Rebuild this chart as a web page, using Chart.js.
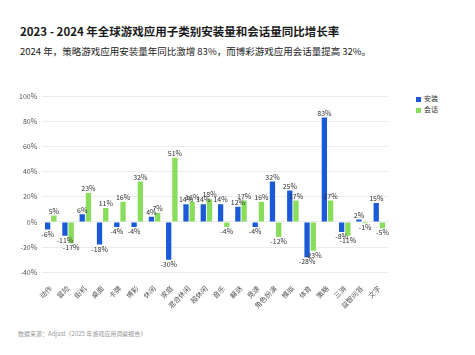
<!DOCTYPE html>
<html>
<head>
<meta charset="utf-8">
<script src="https://cdn.jsdelivr.net/npm/chart.js@4.4.1/dist/chart.umd.min.js"></script>
<style>
  html,body{margin:0;padding:0;background:#fff;width:475px;height:355px;overflow:hidden;font-family:"Noto Sans CJK SC","Noto Sans",sans-serif;}
  #title{position:absolute;left:20px;top:23px;font-size:11.5px;font-weight:bold;color:#1a1a1a;white-space:nowrap;}
  #sub{position:absolute;left:20px;top:44px;font-size:9.5px;color:#222;white-space:nowrap;}
  #src{position:absolute;left:18px;top:329px;font-size:6px;color:#999;white-space:nowrap;}
  #legend{position:absolute;left:416px;top:93px;font-size:7px;color:#333;line-height:11px;}
  #legend .sw{display:inline-block;width:5px;height:5px;margin-right:3px;vertical-align:middle;}
  #wrap{position:absolute;left:0;top:84px;width:475px;height:230px;}
</style>
</head>
<body>
<div id="title">2023 - 2024 年全球游戏应用子类别安装量和会话量同比增长率</div>
<div id="sub">2024 年，策略游戏应用安装量年同比激增 83%，而博彩游戏应用会话量提高 32%。</div>
<div id="legend"><div><span class="sw" style="background:#1a5ad8"></span>安装</div><div><span class="sw" style="background:#88dd5a"></span>会话</div></div>
<div id="wrap"><canvas id="c" width="475" height="230"></canvas></div>
<div id="src">数据来源：Adjust《2025 年游戏应用洞察报告》</div>
<script>
const categories = ["动作","冒险","街机","桌面","卡牌","博彩","休闲","家庭","混合休闲","超休闲","音乐","解谜","竞速","角色扮演","模拟","体育","策略","三消","益智问答","文字"];
const installs = [-6,-11,6,-18,-4,-4,4,-30,14,14,14,12,-4,32,25,-28,83,-8,2,15];
const sessions = [5,-17,23,11,16,32,7,51,16,18,-4,17,16,-12,17,-23,17,-11,-1,-5];
const yTicks = [-40,-20,0,20,40,60,80,100];

const labelPlugin = {
  id:'vlabels',
  afterDatasetsDraw(chart){
    const ctx = chart.ctx;
    ctx.save();
    ctx.font = '7px "Noto Sans CJK SC", sans-serif';
    ctx.fillStyle = '#333';
    ctx.textAlign = 'center';
    chart.data.datasets.forEach((ds,di)=>{
      const meta = chart.getDatasetMeta(di);
      meta.data.forEach((el,i)=>{
        const v = ds.data[i];
        if(v>=0){ctx.textBaseline='bottom'; ctx.fillText(v+'%', el.x, el.y-1);}
        else {ctx.textBaseline='top'; ctx.fillText(v+'%', el.x, el.y+1);}
      });
    });
    ctx.restore();
  }
};

new Chart(document.getElementById('c'),{
  type:'bar',
  data:{labels:categories,datasets:[
    {label:'安装',data:installs,backgroundColor:'#1a5ad8',barPercentage:0.85,categoryPercentage:0.72},
    {label:'会话',data:sessions,backgroundColor:'#88dd5a',barPercentage:0.85,categoryPercentage:0.72}
  ]},
  options:{
    responsive:false,animation:false,devicePixelRatio:1,
    layout:{padding:{left:14,right:87,top:12,bottom:0}},
    plugins:{legend:{display:false},tooltip:{enabled:false}},
    scales:{
      x:{grid:{display:false},border:{display:false},
        ticks:{font:{size:7,family:'"Noto Sans CJK SC", sans-serif'},color:'#555',minRotation:45,maxRotation:45,padding:4}},
      y:{min:-40,max:100,grid:{color:'#ececec',drawTicks:false},border:{display:false},
        afterBuildTicks(axis){axis.ticks = yTicks.map(v=>({value:v}));},
        ticks:{font:{size:7,family:'"Noto Sans CJK SC", sans-serif'},color:'#555',padding:5,callback:v=>v+'%'}}
    }
  },
  plugins:[labelPlugin]
});
</script>
</body>
</html>
